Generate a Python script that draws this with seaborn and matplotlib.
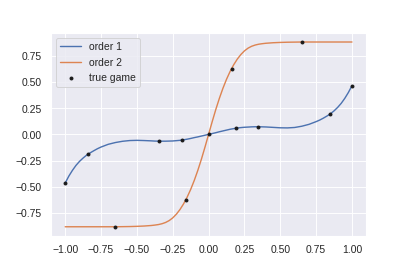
import pandas as pd
import seaborn as sns
import matplotlib.pyplot as plt

# curve samples (denser where the curves bend)
x_grid = [-1.000, -0.975, -0.950, -0.925, -0.900, -0.875, -0.850, -0.825, -0.800, -0.775,
          -0.750, -0.700, -0.650, -0.600, -0.550, -0.500, -0.450,
          -0.400, -0.375, -0.350, -0.325, -0.300, -0.275, -0.250, -0.225, -0.200,
          -0.175, -0.150, -0.125, -0.100, -0.075, -0.050, -0.025,
          0.000,
          0.025, 0.050, 0.075, 0.100, 0.125, 0.150, 0.175, 0.200, 0.225,
          0.250, 0.275, 0.300, 0.325, 0.350, 0.375, 0.400,
          0.450, 0.500, 0.550, 0.600, 0.650, 0.700,
          0.750, 0.775, 0.800, 0.825, 0.850, 0.875, 0.900, 0.925, 0.950, 0.975, 1.000]

order1 = [-0.465, -0.400, -0.345, -0.297, -0.258, -0.226, -0.198, -0.176, -0.156, -0.137,
          -0.121, -0.095, -0.078, -0.066, -0.059, -0.057, -0.059,
          -0.062, -0.064, -0.065, -0.065, -0.065, -0.064, -0.063, -0.060, -0.057,
          -0.052, -0.046, -0.039, -0.031, -0.024, -0.016, -0.008,
          0.000,
          0.008, 0.016, 0.025, 0.033, 0.041, 0.049, 0.055, 0.061, 0.065,
          0.068, 0.070, 0.072, 0.073, 0.073, 0.072, 0.071,
          0.067, 0.063, 0.062, 0.066, 0.078, 0.096,
          0.122, 0.137, 0.155, 0.175, 0.197, 0.225, 0.258, 0.297, 0.345, 0.401, 0.466]

order2 = [-0.884, -0.884, -0.884, -0.884, -0.884, -0.884, -0.884, -0.884, -0.884, -0.884,
          -0.884, -0.884, -0.884, -0.883, -0.882, -0.880, -0.877,
          -0.872, -0.868, -0.863, -0.855, -0.843, -0.825, -0.799, -0.764, -0.720,
          -0.666, -0.602, -0.527, -0.441, -0.344, -0.237, -0.121,
          0.000,
          0.121, 0.237, 0.344, 0.441, 0.527, 0.602, 0.666, 0.720, 0.764,
          0.799, 0.825, 0.843, 0.855, 0.863, 0.868, 0.872,
          0.877, 0.880, 0.882, 0.883, 0.884, 0.884,
          0.884, 0.884, 0.884, 0.884, 0.884, 0.884, 0.884, 0.884, 0.884, 0.884, 0.884]

# true game points
game_x = [-1.00, -0.84, -0.345, -0.185, 0.00, 0.19, 0.345, 0.845, 1.00,
          -0.655, -0.16, 0.16, 0.655]
game_y = [-0.465, -0.192, -0.064, -0.054, 0.000, 0.062, 0.073, 0.195, 0.466,
          -0.883, -0.627, 0.627, 0.882]

sns.set_theme()
plt.rcParams['font.family'] = ['Liberation Sans', 'DejaVu Sans']

fig = plt.figure(figsize=(6, 4), dpi=407 / 6)
ax = fig.add_subplot(111)
fig.subplots_adjust(left=0.125, right=0.9, top=0.878, bottom=0.129)

df = pd.DataFrame({'x': x_grid, 'order 1': order1, 'order 2': order2})
sns.lineplot(data=df, x='x', y='order 1', ax=ax, label='order 1')
sns.lineplot(data=df, x='x', y='order 2', ax=ax, label='order 2')
ax.scatter(game_x, game_y, color='k', s=10, zorder=3, label='true game')

ax.set_xlabel('')
ax.set_ylabel('')
ax.set_xticks([-1.0, -0.75, -0.5, -0.25, 0.0, 0.25, 0.5, 0.75, 1.0])
ax.legend(loc='upper left')

fig.savefig('out.png', dpi=407 / 6)
